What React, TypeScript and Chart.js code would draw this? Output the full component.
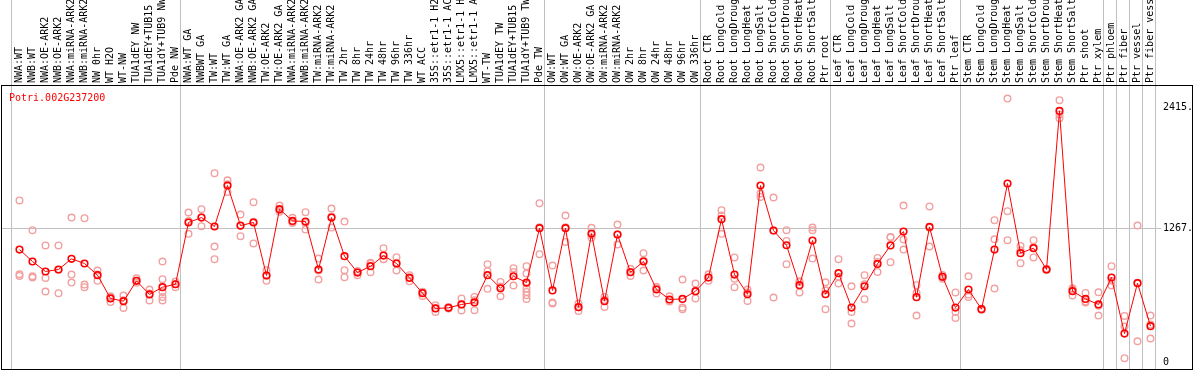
import React, { useEffect, useRef } from "react";
import { Chart, registerables } from "chart.js";

Chart.register(...registerables);

const geneTitle = "Potri.002G237200";

const categories = [
  "NWA:WT", "NWB:WT", "NWA:OE-ARK2", "NWB:OE-ARK2", "NWA:miRNA-ARK2", "NWB:miRNA-ARK2",
  "NW 0hr", "WT H2O", "WT-NW", "TUA1dEY NW", "TUA1dEY+TUB15 NW", "TUA1dY+TUB9 NW", "Pde NW",
  "NWA:WT GA", "NWBWT GA", "TW:WT", "TW:WT GA", "NWA:OE-ARK2 GA", "NWB:OE-ARK2 GA",
  "TW:OE-ARK2", "TW:OE-ARK2 GA", "NWA:miRNA-ARK2 GA", "NWB:miRNA-ARK2 GA", "TW:miRNA-ARK2",
  "TW:miRNA-ARK2 GA", "TW 2hr", "TW 8hr", "TW 24hr", "TW 48hr", "TW 96hr", "TW 336hr",
  "WT ACC", "35S::etr1-1 H2O", "35S::etr1-1 ACC", "LMX5::etr1-1 H2O", "LMX5::etr1-1 ACC",
  "WT-TW", "TUA1dEY TW", "TUA1dEY+TUB15 TW", "TUA1dY+TUB9 TW", "Pde TW",
  "OW:WT", "OW:WT GA", "OW:OE-ARK2", "OW:OE-ARK2 GA", "OW:miRNA-ARK2", "OW:miRNA-ARK2 GA",
  "OW 2hr", "OW 8hr", "OW 24hr", "OW 48hr", "OW 96hr", "OW 336hr",
  "Root CTR", "Root LongCold", "Root LongDrought", "Root LongHeat", "Root LongSalt",
  "Root ShortCold", "Root ShortDrought", "Root ShortHeat", "Root ShortSalt", "Ptr root",
  "Leaf CTR", "Leaf LongCold", "Leaf LongDrought", "Leaf LongHeat", "Leaf LongSalt",
  "Leaf ShortCold", "Leaf ShortDrought", "Leaf ShortHeat", "Leaf ShortSalt", "Ptr leaf",
  "Stem CTR", "Stem LongCold", "Stem LongDrought", "Stem LongHeat", "Stem LongSalt",
  "Stem ShortCold", "Stem ShortDrought", "Stem ShortHeat", "Stem ShortSalt", "Ptr shoot",
  "Ptr xylem", "Ptr phloem", "Ptr fiber", "Ptr vessel", "Ptr fiber vessel",
];

const meanValues = [
  1067, 954, 859, 878, 979, 935, 824, 603, 577, 770, 641, 710, 738,
  1324, 1371, 1286, 1675, 1295, 1324, 821, 1450, 1339, 1333, 878, 1371, 1004,
  849, 909, 1010, 935, 798, 653, 508, 514, 546, 565, 824, 700, 814, 754, 1270,
  679, 1270, 520, 1219, 577, 1210, 852, 954, 688, 593, 599, 672,
  802, 1355, 830, 643, 1675, 1248, 1108, 729, 1153, 643,
  843, 517, 719, 931, 1106, 1238, 615, 1282, 808, 517,
  688, 501, 1067, 1694, 1033, 1080, 878, 2383, 672, 599,
  546, 802, 270, 748, 340,
];

const replicateValues = [
  [1533, 833, 817], [1251, 814, 802], [1106, 798, 669], [1106, 875, 653],
  [1371, 830, 754], [1365, 735, 710], [868, 830, 770], [624, 615, 570],
  [631, 587, 513], [795, 770, 751], [688, 650, 584], [954, 786, 665, 617, 584],
  [764, 740, 710], [1419, 1337, 1216], [1450, 1374, 1289], [1792, 1096, 976],
  [1725, 1686, 1614], [1400, 1291, 1194], [1517, 1330, 1125], [871, 822, 770],
  [1485, 1440, 1425], [1368, 1330, 1320], [1422, 1320, 1257], [982, 869, 783],
  [1457, 1380, 1276], [1333, 871, 805], [862, 861, 824], [941, 934, 852],
  [1080, 975, 976], [995, 941, 868], [824, 804, 767], [667, 665, 627],
  [539, 510, 475], [523, 511, 508], [603, 546, 489], [618, 585, 492],
  [928, 862, 694], [760, 716, 624], [890, 855, 726], [909, 840, 745, 697, 665, 634, 599],
  [1507, 1280, 1023], [916, 565, 556], [1390, 1280, 1140], [555, 520, 485],
  [1273, 1206, 1178], [618, 590, 523], [1305, 1210, 1115], [884, 855, 817],
  [1033, 961, 868], [713, 700, 650], [624, 580, 575], [783, 517, 501],
  [745, 668, 603], [833, 803, 770], [1441, 1390, 1216], [992, 790, 710],
  [688, 660, 580], [1846, 1599, 1567], [1561, 1248, 612], [1251, 1149, 928],
  [767, 760, 660], [1276, 1251, 982], [757, 681, 501], [976, 808, 745],
  [719, 475, 365], [824, 737, 596], [988, 950, 855], [1187, 1184, 947],
  [1485, 1162, 1067], [729, 656, 441], [1476, 1275, 1096], [825, 808, 790],
  [660, 475, 418], [814, 641, 618], [505, 501, 495], [1346, 1165, 697],
  [2500, 1431, 1156], [1102, 1060, 938], [1156, 1090, 992], [885, 878, 872],
  [2485, 2350, 2314], [700, 685, 631], [656, 576, 565], [662, 535, 441],
  [909, 771, 726], [437, 337, 36], [1295, 752, 197], [441, 355, 223],
];

const groupStarts = [0, 13, 41, 53, 63, 73, 84, 85, 86, 87, 88];
const yTickValues = [0, 1267, 2415];
const yTickLabels = ["0", "1267.", "2415."];
const gridTickValue = 1267;

const FONT = { family: "'DejaVu Sans Mono', monospace", size: 10 };

const zeroPadding = (s: any) => {
  s.paddingLeft = 0;
  s.paddingRight = 0;
  s.paddingTop = 0;
  s.paddingBottom = 0;
  s.getPadding = () => ({ left: 0, top: 0, right: 0, bottom: 0 });
};

const decorPlugin = {
  id: "decor",
  beforeDraw(chart: any) {
    const ctx = chart.ctx;
    const xs = chart.scales.x;
    const area = chart.chartArea;
    ctx.save();
    ctx.fillStyle = "#ffffff";
    ctx.fillRect(0, 0, chart.width, chart.height);
    ctx.strokeStyle = "#c0c0c0";
    ctx.lineWidth = 1;
    for (const g of groupStarts) {
      const px = Math.floor(xs.getPixelForValue(g - 8 / 13)) + 0.5;
      ctx.beginPath();
      ctx.moveTo(px, 0);
      ctx.lineTo(px, area.bottom);
      ctx.stroke();
    }
    ctx.restore();
  },
  afterDraw(chart: any) {
    const ctx = chart.ctx;
    ctx.save();
    ctx.strokeStyle = "#000000";
    ctx.lineWidth = 1;
    ctx.strokeRect(1.5, 85.5, 1191, 284);
    ctx.fillStyle = "#ff0000";
    ctx.font = "10px 'DejaVu Sans Mono', monospace";
    ctx.textBaseline = "alphabetic";
    ctx.textAlign = "left";
    ctx.fillText(geneTitle, 9, 101);
    ctx.restore();
  },
};

export default function App() {
  const canvasRef = useRef<HTMLCanvasElement | null>(null);

  useEffect(() => {
    document.body.style.margin = "0";
    const canvas = canvasRef.current;
    if (!canvas) return;
    const chart = new Chart(canvas, {
      type: "line",
      data: {
        datasets: [
          {
            type: "line",
            label: "mean",
            data: meanValues.map((v, i) => ({ x: i, y: v })),
            borderColor: "#ff0000",
            borderWidth: 1,
            pointRadius: 3.3,
            pointBorderWidth: 1.6,
            pointBorderColor: "#ff0000",
            pointBackgroundColor: "rgba(0,0,0,0)",
            tension: 0,
            order: 0,
          } as any,
          {
            type: "scatter",
            label: "replicates",
            data: replicateValues.flatMap((reps, i) => reps.map((v) => ({ x: i, y: v }))),
            showLine: false,
            pointRadius: 3.3,
            pointBorderWidth: 1.4,
            pointBorderColor: "#f2a0a0",
            pointBackgroundColor: "rgba(0,0,0,0)",
            order: 1,
          } as any,
        ],
      },
      options: {
        responsive: false,
        maintainAspectRatio: false,
        devicePixelRatio: 1,
        animation: false,
        events: [],
        layout: { autoPadding: false, padding: { left: 2, right: 0, top: 0, bottom: 1 } },
        plugins: { legend: { display: false }, tooltip: { enabled: false }, title: { display: false } },
        scales: {
          x: {
            type: "linear",
            position: "top",
            min: -17.5 / 13,
            max: -17.5 / 13 + 1159 / 13,
            afterBuildTicks: (s: any) => {
              s.ticks = categories.map((_, i) => ({ value: i }));
            },
            afterFit: (s: any) => {
              s.height = 85;
              zeroPadding(s);
            },
            ticks: {
              autoSkip: false,
              minRotation: 90,
              maxRotation: 90,
              padding: 2,
              labelOffset: 12,
              color: "#000000",
              font: FONT,
              callback: (v: any) => categories[v as number] ?? "",
            },
            grid: { display: false, drawTicks: false },
            border: { display: false },
          },
          y: {
            type: "linear",
            position: "right",
            min: -66.4,
            max: 2628.8,
            afterBuildTicks: (s: any) => {
              s.ticks = yTickValues.map((v) => ({ value: v }));
            },
            afterFit: (s: any) => {
              s.width = 33;
              zeroPadding(s);
            },
            ticks: {
              padding: 2,
              color: "#000000",
              font: FONT,
              callback: (v: any) => {
                const k = yTickValues.indexOf(v as number);
                return k >= 0 ? yTickLabels[k] : "";
              },
            },
            grid: {
              drawTicks: false,
              lineWidth: 1,
              color: (ctx: any) =>
                ctx.tick && ctx.tick.value === gridTickValue ? "#c0c0c0" : "rgba(0,0,0,0)",
            },
            border: { display: false },
          },
        },
      },
      plugins: [decorPlugin],
    });
    return () => chart.destroy();
  }, []);

  return (
    <div style={{ position: "absolute", left: 0, top: 0, width: 1194, height: 370 }}>
      <canvas ref={canvasRef} width={1194} height={370} style={{ display: "block" }} />
    </div>
  );
}
